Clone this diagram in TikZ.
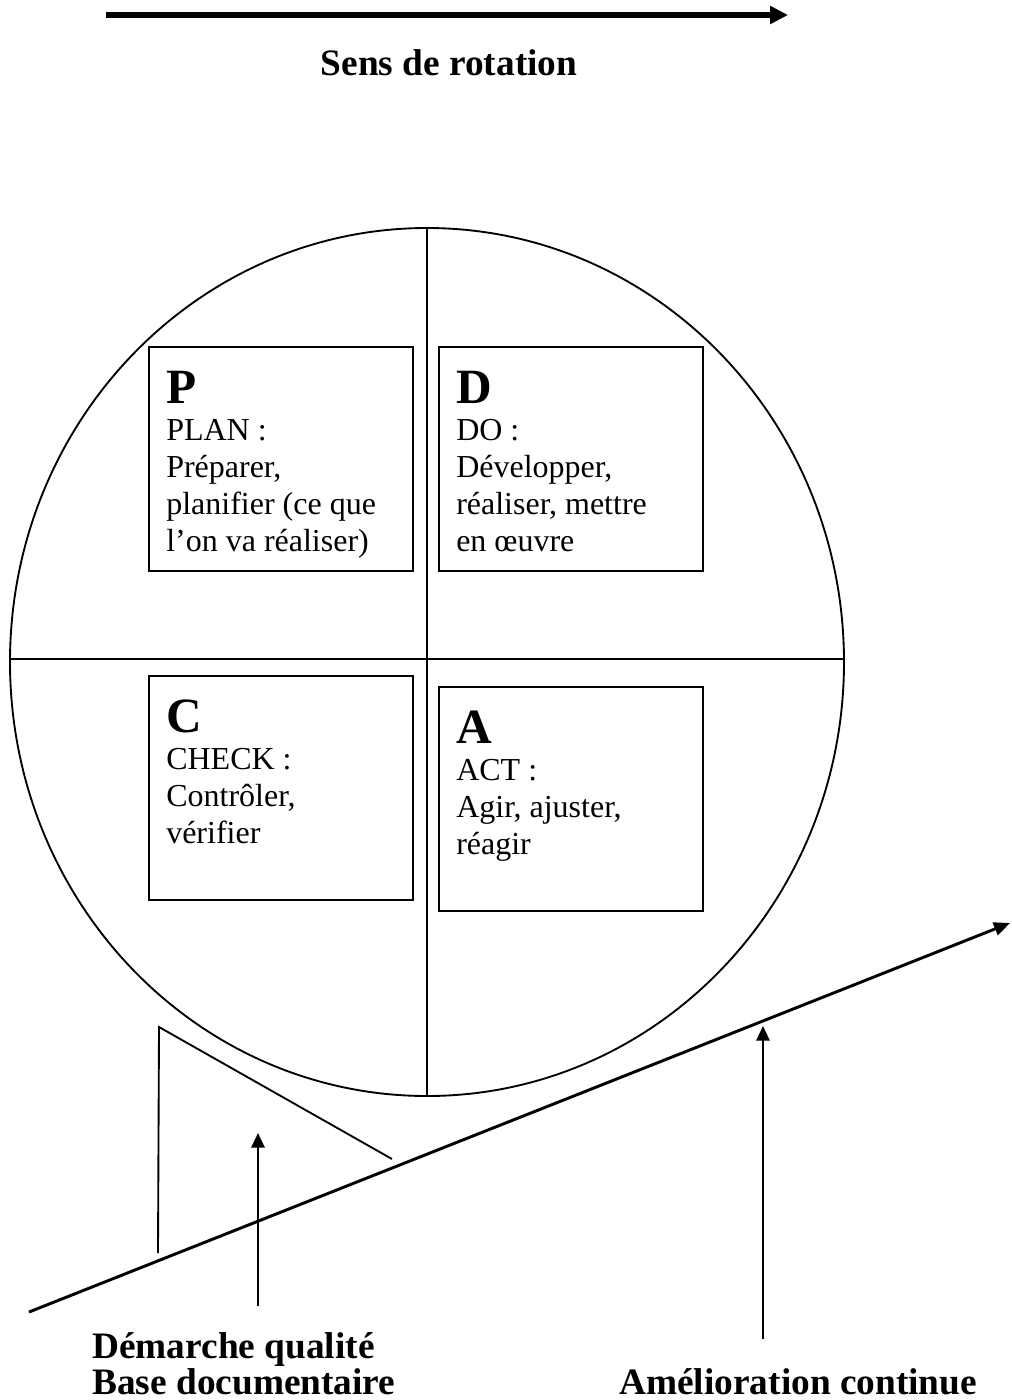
\documentclass[tikz,border=0pt]{standalone}
\usepackage{fontspec}
\setmainfont{Liberation Serif}
\usetikzlibrary{arrows.meta}
\begin{document}
\begin{tikzpicture}[x=0.75pt,y=-0.75pt,
  frame/.style={line width=1.4pt},
  stepbox/.style={draw,line width=1.5pt,minimum width=198pt,minimum height=168pt,inner sep=0pt,anchor=north west},
  bigl/.style={font=\fontsize{37}{40}\selectfont\bfseries,anchor=base west,inner sep=0pt},
  body/.style={font=\fontsize{24}{27}\selectfont,anchor=base west,inner sep=0pt},
  lbl/.style={font=\fontsize{28}{32}\selectfont\bfseries,inner sep=0pt},
  bigarrow/.style={line width=3.8pt,-{Triangle[length=13.5pt,width=13pt]}},
  upar/.style={line width=1.7pt,-{Triangle[length=11pt,width=10pt]}},
  rise/.style={line width=2.2pt,-{Triangle[length=12pt,width=10pt]}}]
\useasboundingbox (0,0) rectangle (1011,1400);
% top arrow
\coordinate (ta1) at (106,15);
\coordinate (ta2) at (788,15);
\draw[bigarrow] (ta1) -- (ta2);
\node[lbl,anchor=base] (sens) at (449,75) {Sens de rotation};
% circle and cross
\coordinate (O) at (427,662);
\draw[frame] (O) ellipse [x radius=312.75pt, y radius=325.5pt];
\coordinate (vt) at (427,228);
\coordinate (vb) at (427,1096);
\coordinate (hl) at (10,659);
\coordinate (hr) at (844,659);
\draw[frame] (vt) -- (vb);
\draw[frame] (hl) -- (hr);
% boxes
\node[stepbox] (Pbox) at (148,346) {};
\node[stepbox] (Dbox) at (438,346) {};
\node[stepbox] (Cbox) at (148,675) {};
\node[stepbox] (Abox) at (438,686) {};
% P
\node[bigl] (Pl) at (166,403) {P};
\node[body] (P1) at (166,440) {PLAN :};
\node[body] (P2) at (166,477) {Préparer,};
\node[body] (P3) at (166,514) {planifier (ce que};
\node[body] (P4) at (166,551) {l’on va réaliser)};
% D
\node[bigl] (Dl) at (456,403) {D};
\node[body] (D1) at (456,440) {DO :};
\node[body] (D2) at (456,477) {Développer,};
\node[body] (D3) at (456,514) {réaliser, mettre};
\node[body] (D4) at (456,551) {en œuvre};
% C
\node[bigl] (Cl) at (166,732) {C};
\node[body] (C1) at (166,769) {CHECK :};
\node[body] (C2) at (166,806) {Contrôler,};
\node[body] (C3) at (166,843) {vérifier};
% A
\node[bigl] (Al) at (456,743) {A};
\node[body] (A1) at (456,780) {ACT :};
\node[body] (A2) at (456,817) {Agir, ajuster,};
\node[body] (A3) at (456,854) {réagir};
% wedge
\coordinate (w1) at (158,1253);
\coordinate (w2) at (159,1027);
\coordinate (w3) at (392,1159);
\draw[frame] (w1) -- (w2) -- (w3);
% rising line
\coordinate (r1) at (29,1312);
\coordinate (r2) at (1010,923);
\draw[rise] (r1) -- (r2);
% up arrows
\coordinate (u1a) at (258,1306);
\coordinate (u1b) at (258,1133);
\draw[upar] (u1a) -- (u1b);
\coordinate (u2a) at (763,1339);
\coordinate (u2b) at (763,1026);
\draw[upar] (u2a) -- (u2b);
% labels
\node[lbl,anchor=base west] (dq) at (92,1358) {Démarche qualité};
\node[lbl,anchor=base west] (bd) at (92,1394) {Base documentaire};
\node[lbl,anchor=base west] (ac) at (619,1394) {Amélioration continue};
\end{tikzpicture}
\end{document}
